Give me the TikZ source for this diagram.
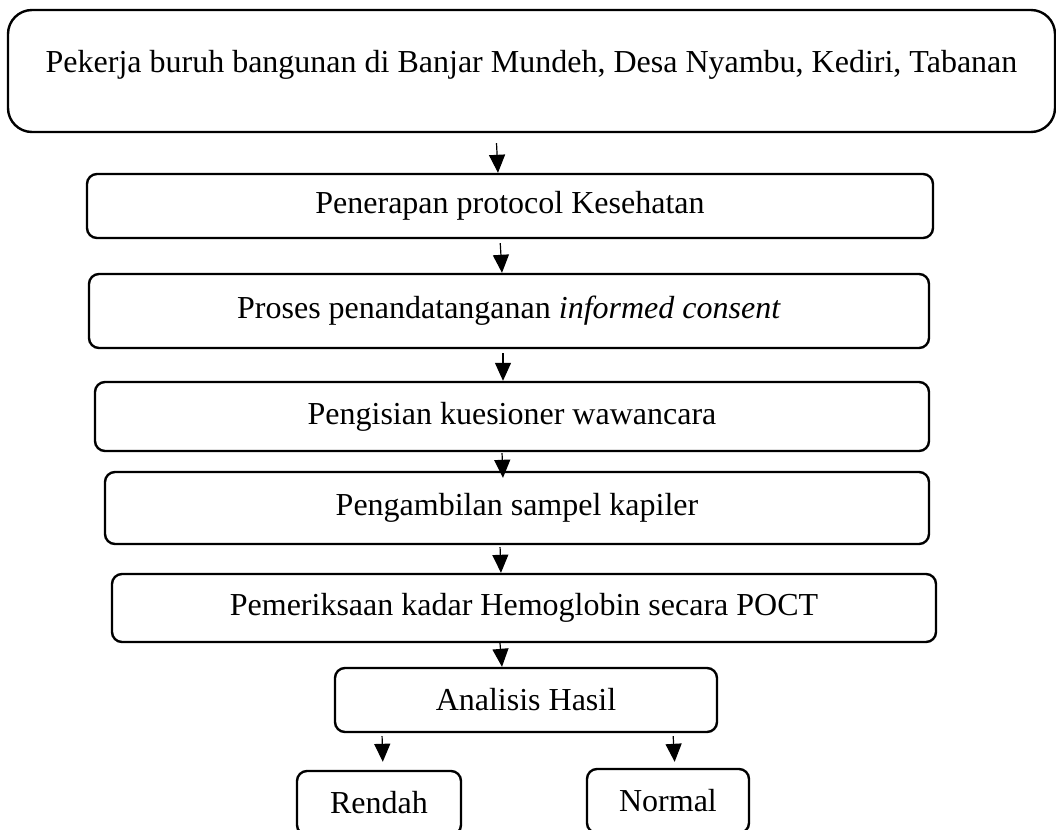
\documentclass[tikz,border=0pt]{standalone}
\usepackage{fontspec}
\setmainfont{Liberation Serif}
\usetikzlibrary{arrows.meta}
\tikzset{
  stepbox/.style={draw, line width=1.2pt, rounded corners=5pt, inner sep=0pt,
    font=\fontsize{16}{19}\selectfont},
  flow/.style={line width=0.6pt, -{Triangle[width=8pt,length=9pt]}}
}
\begin{document}
\begin{tikzpicture}[x=0.5pt,y=-0.5pt]
\useasboundingbox (0,0) rectangle (1056,830);
% kotak alur
\node[stepbox, rounded corners=12pt, minimum width=523.5pt, minimum height=61pt, text depth=9.5pt] (pekerja) at (531.5,71) {Pekerja buruh bangunan di Banjar Mundeh, Desa Nyambu, Kediri, Tabanan};
\node[stepbox, minimum width=423pt, minimum height=32pt] (protokol) at (510,206) {Penerapan protocol Kesehatan};
\node[stepbox, minimum width=420pt, minimum height=37pt] (consent) at (509,311) {Proses penandatanganan \textit{informed consent}};
\node[stepbox, minimum width=417pt, minimum height=34.5pt] (kuesioner) at (512,416.5) {Pengisian kuesioner wawancara};
\node[stepbox, minimum width=412pt, minimum height=36pt] (sampel) at (517,508) {Pengambilan sampel kapiler};
\node[stepbox, minimum width=412pt, minimum height=34pt] (poct) at (524,608) {Pemeriksaan kadar Hemoglobin secara POCT};
\node[stepbox, minimum width=191pt, minimum height=32pt] (analisis) at (526,700) {Analisis Hasil};
\node[stepbox, minimum width=82pt, minimum height=32pt] (rendah) at (379,803) {Rendah};
\node[stepbox, minimum width=81pt, minimum height=32pt] (normal) at (668,801) {Normal};
% panah
\draw[flow, shorten <=5pt] ([xshift=-17.75pt]pekerja.south) -- ([xshift=-6pt]protokol.north);
\draw[flow, shorten <=2pt] ([xshift=-5pt]protokol.south) -- ([xshift=-3.5pt]consent.north);
\draw[flow, shorten <=2pt] ([xshift=-3pt]consent.south) -- ([xshift=-4.5pt]kuesioner.north);
\draw[flow, shorten <=0.5pt] ([xshift=-5pt]kuesioner.south) -- ([xshift=-7pt,yshift=-3.5pt]sampel.north);
\draw[flow, shorten <=1pt] ([xshift=-8.5pt]sampel.south) -- ([xshift=-11.5pt]poct.north);
\draw[flow] ([xshift=-12pt]poct.south) -- ([xshift=-12pt]analisis.north);
\draw[flow, shorten <=1.5pt, shorten >=4pt] ([xshift=-72pt]analisis.south) -- ([xshift=2pt]rendah.north);
\draw[flow, shorten <=1.5pt, shorten >=3pt] ([xshift=73.5pt]analisis.south) -- ([xshift=3.5pt]normal.north);
\end{tikzpicture}
\end{document}
